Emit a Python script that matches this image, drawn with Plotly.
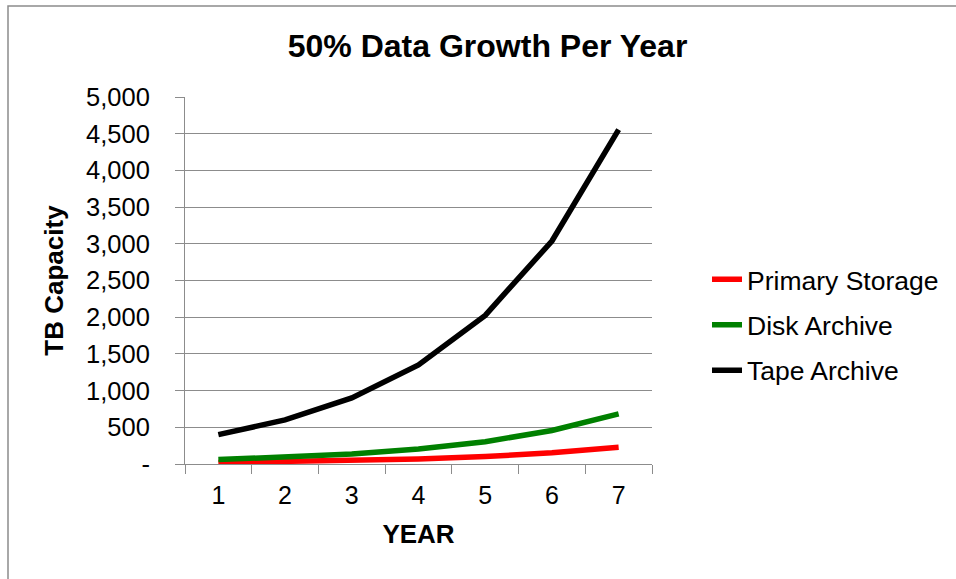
import plotly.graph_objects as go

# Projected capacity (TB) by year at 50% annual growth
years = ["1", "2", "3", "4", "5", "6", "7"]
primary_storage = [20, 30, 45, 68, 101, 152, 228]
disk_archive = [60, 90, 135, 203, 304, 456, 683]
tape_archive = [400, 600, 900, 1350, 2025, 3038, 4556]

y_ticks = [0, 500, 1000, 1500, 2000, 2500, 3000, 3500, 4000, 4500, 5000]
y_tick_text = ["-", "500", "1,000", "1,500", "2,000", "2,500", "3,000",
               "3,500", "4,000", "4,500", "5,000"]

series = [
    ("Primary Storage", primary_storage, "#ff0000"),
    ("Disk Archive", disk_archive, "#008000"),
    ("Tape Archive", tape_archive, "#000000"),
]

FONT = "Liberation Sans, Arial, sans-serif"
GRID = "#8c8c8c"

fig = go.Figure()
for i, (name, vals, color) in enumerate(series):
    fig.add_trace(go.Scatter(
        x=years, y=vals, name=name, mode="lines",
        line=dict(color=color, width=5.5),
        legendgroup=f"g{i}",
    ))

fig.update_layout(
    width=956, height=579,
    margin=dict(l=185, r=304, t=97, b=115),
    paper_bgcolor="white", plot_bgcolor="white",
    font=dict(family=FONT, color="black"),
    title=dict(
        text="<b>50% Data Growth Per Year</b>",
        font=dict(size=32, family=FONT, color="black"),
        x=0.51, xanchor="center", y=1 - 46 / 579, yanchor="middle",
    ),
    showlegend=True,
    legend=dict(
        x=(707 - 185) / 467, xanchor="left",
        y=(464 - 325) / 367, yanchor="middle",
        font=dict(size=26.5, family=FONT, color="black"),
        tracegroupgap=8,
        bgcolor="rgba(0,0,0,0)",
    ),
)

fig.update_xaxes(
    type="category",
    range=[-0.5, 6.5],
    tickson="boundaries",
    ticks="outside", ticklen=9, tickcolor=GRID, tickwidth=1,
    showline=True, linecolor=GRID, linewidth=1,
    showgrid=False, zeroline=False,
    tickfont=dict(size=25, family=FONT, color="black"),
    ticklabelstandoff=9,
    title=dict(text="<b>YEAR</b>", font=dict(size=26, family=FONT, color="black"),
               standoff=16),
)

fig.update_yaxes(
    range=[0, 5000],
    tickmode="array", tickvals=y_ticks, ticktext=y_tick_text,
    ticks="outside", ticklen=9, tickcolor=GRID, tickwidth=1,
    showline=True, linecolor=GRID, linewidth=1,
    showgrid=True, gridcolor=GRID, gridwidth=1,
    zeroline=False,
    tickfont=dict(size=25.5, family=FONT, color="black"),
    ticklabelstandoff=20,
    title=dict(text="<b>TB Capacity</b>", font=dict(size=26, family=FONT, color="black"),
               standoff=14),
)

# Chart border frame
fig.add_shape(
    type="rect", xref="paper", yref="paper",
    x0=(8 - 185) / 467, x1=(1000 - 185) / 467,
    y0=(464 - 600) / 367, y1=(464 - 6) / 367,
    line=dict(color="#8c8c8c", width=1.5), fillcolor="rgba(0,0,0,0)",
    layer="below",
)

fig.write_html("out.html")
